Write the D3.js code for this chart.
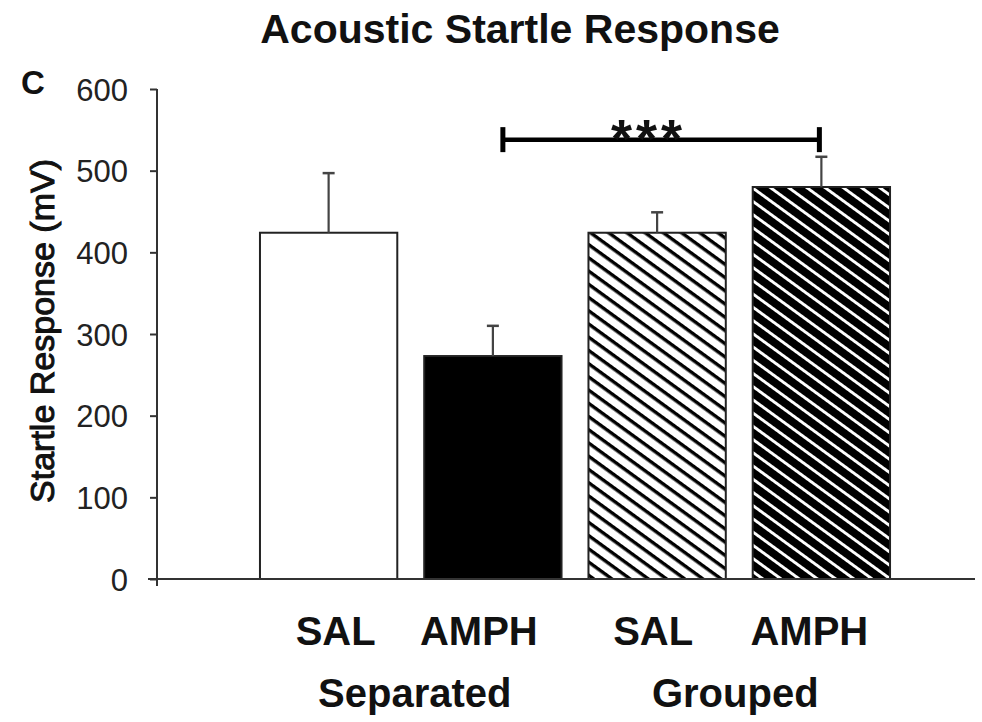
<!DOCTYPE html>
<html>
<head>
<meta charset="utf-8">
<script src="https://cdn.jsdelivr.net/npm/d3@7"></script>
<style>
  body { margin: 0; background: #fff; }
  svg { display: block; font-family: "Liberation Sans", Arial, sans-serif; }
</style>
</head>
<body>
<svg id="chart" width="982" height="722"></svg>
<script>
// ---- data ----
const categories = ["Sep-SAL", "Sep-AMPH", "Grp-SAL", "Grp-AMPH"];
const barLabels = ["SAL", "AMPH", "SAL", "AMPH"];
const groups = ["Separated", "Grouped"];
const means = [424, 273, 424, 480];
const errors = [73, 37, 25, 37];
const yTicks = [0, 100, 200, 300, 400, 500, 600];
const sigPair = ["Sep-AMPH", "Grp-AMPH"];
const sigLevel = 538;
const sigText = "***";
const title = "Acoustic Startle Response";
const yTitle = "Startle Response (mV)";
const panel = "C";

// ---- layout ----
const svg = d3.select("#chart");
const x = d3.scaleBand().domain(categories).range([246.5, 903.5])
  .paddingInner(0.164).paddingOuter(0.082);
const y = d3.scaleLinear().domain([0, 600]).range([579, 89]);

// patterns
const defs = svg.append("defs");
function hatch(id, blackWidth) {
  const period = 10.7;
  const p = defs.append("pattern").attr("id", id)
    .attr("patternUnits", "userSpaceOnUse")
    .attr("width", 40).attr("height", period)
    .attr("patternTransform", "rotate(36)");
  p.append("rect").attr("width", 40).attr("height", period).attr("fill", "#fff");
  p.append("rect").attr("y", 0).attr("width", 40).attr("height", blackWidth).attr("fill", "#000");
}
hatch("hatchLight", 3.4);
hatch("hatchDark", 7.8);
const fills = ["#fff", "#000", "url(#hatchLight)", "url(#hatchDark)"];

// title
svg.append("text").attr("x", 520).attr("y", 43).attr("text-anchor", "middle")
  .attr("font-size", 41).attr("font-weight", "bold").attr("fill", "#111").text(title);

// panel letter
svg.append("text").attr("x", 21).attr("y", 94)
  .attr("font-size", 33).attr("font-weight", "bold").attr("fill", "#111").text(panel);

// y axis title
svg.append("text").attr("transform", "translate(54,331) rotate(-90)")
  .attr("text-anchor", "middle").attr("font-size", 34)
  .attr("stroke", "#111").attr("stroke-width", 1)
  .attr("fill", "#111").text(yTitle);

// bars
svg.selectAll("rect.bar").data(categories).enter().append("rect")
  .attr("class", "bar")
  .attr("x", d => x(d))
  .attr("y", (d, i) => y(means[i]))
  .attr("width", x.bandwidth())
  .attr("height", (d, i) => y(0) - y(means[i]))
  .attr("fill", (d, i) => fills[i])
  .attr("stroke", "#222").attr("stroke-width", 2);

// error bars (upper only)
const eb = svg.selectAll("g.eb").data(categories).enter().append("g").attr("class", "eb");
eb.append("line")
  .attr("x1", d => x(d) + x.bandwidth() / 2).attr("x2", d => x(d) + x.bandwidth() / 2)
  .attr("y1", (d, i) => y(means[i])).attr("y2", (d, i) => y(means[i] + errors[i]))
  .attr("stroke", "#444").attr("stroke-width", 2.2);
eb.append("line")
  .attr("x1", d => x(d) + x.bandwidth() / 2 - 6).attr("x2", d => x(d) + x.bandwidth() / 2 + 6)
  .attr("y1", (d, i) => y(means[i] + errors[i])).attr("y2", (d, i) => y(means[i] + errors[i]))
  .attr("stroke", "#444").attr("stroke-width", 2.5);

// y axis
const yAxis = d3.axisLeft(y).tickValues(yTicks).tickSize(7).tickPadding(22).tickSizeOuter(0);
const gy = svg.append("g").attr("transform", "translate(157,0)").call(yAxis);
gy.select(".domain").attr("stroke", "#333").attr("stroke-width", 2).attr("d", "M0,89V586");
gy.selectAll(".tick line").attr("stroke", "#333").attr("stroke-width", 2);
gy.selectAll(".tick text").attr("font-size", 31).attr("fill", "#222")
  .attr("font-family", "'Liberation Sans', Arial, sans-serif").attr("dy", "0.36em");

// x axis line
svg.append("line").attr("x1", 148).attr("x2", 975).attr("y1", y(0)).attr("y2", y(0))
  .attr("stroke", "#333").attr("stroke-width", 2);

// category labels
const labelShift = [7, -14, -4, -12];
svg.selectAll("text.cat").data(categories).enter().append("text")
  .attr("class", "cat")
  .attr("x", (d, i) => x(d) + x.bandwidth() / 2 + labelShift[i])
  .attr("y", 645).attr("text-anchor", "middle")
  .attr("font-size", 40).attr("font-weight", "bold").attr("fill", "#111")
  .text((d, i) => barLabels[i]);

// group labels
const groupShift = [4, -4];
svg.selectAll("text.grp").data(groups).enter().append("text")
  .attr("class", "grp")
  .attr("x", (d, i) => (x(categories[i * 2]) + x(categories[i * 2 + 1]) + x.bandwidth()) / 2 + groupShift[i])
  .attr("y", 707).attr("text-anchor", "middle")
  .attr("font-size", 40).attr("font-weight", "bold").attr("fill", "#111")
  .text(d => d);

// significance bracket
const sx1 = x(sigPair[0]) + x.bandwidth() / 2 + 10;
const sx2 = x(sigPair[1]) + x.bandwidth() / 2 - 2;
const sy = y(sigLevel);
svg.append("line").attr("x1", sx1).attr("x2", sx2).attr("y1", sy).attr("y2", sy)
  .attr("stroke", "#000").attr("stroke-width", 4.5);
[sx1, sx2].forEach(sx => {
  svg.append("line").attr("x1", sx).attr("x2", sx).attr("y1", sy - 12.5).attr("y2", sy + 12.5)
    .attr("stroke", "#000").attr("stroke-width", 5);
});
svg.append("text").attr("x", 611).attr("y", 157)
  .attr("font-size", 54).attr("font-weight", "bold").attr("letter-spacing", 4)
  .attr("fill", "#111").text(sigText);
</script>
</body>
</html>
